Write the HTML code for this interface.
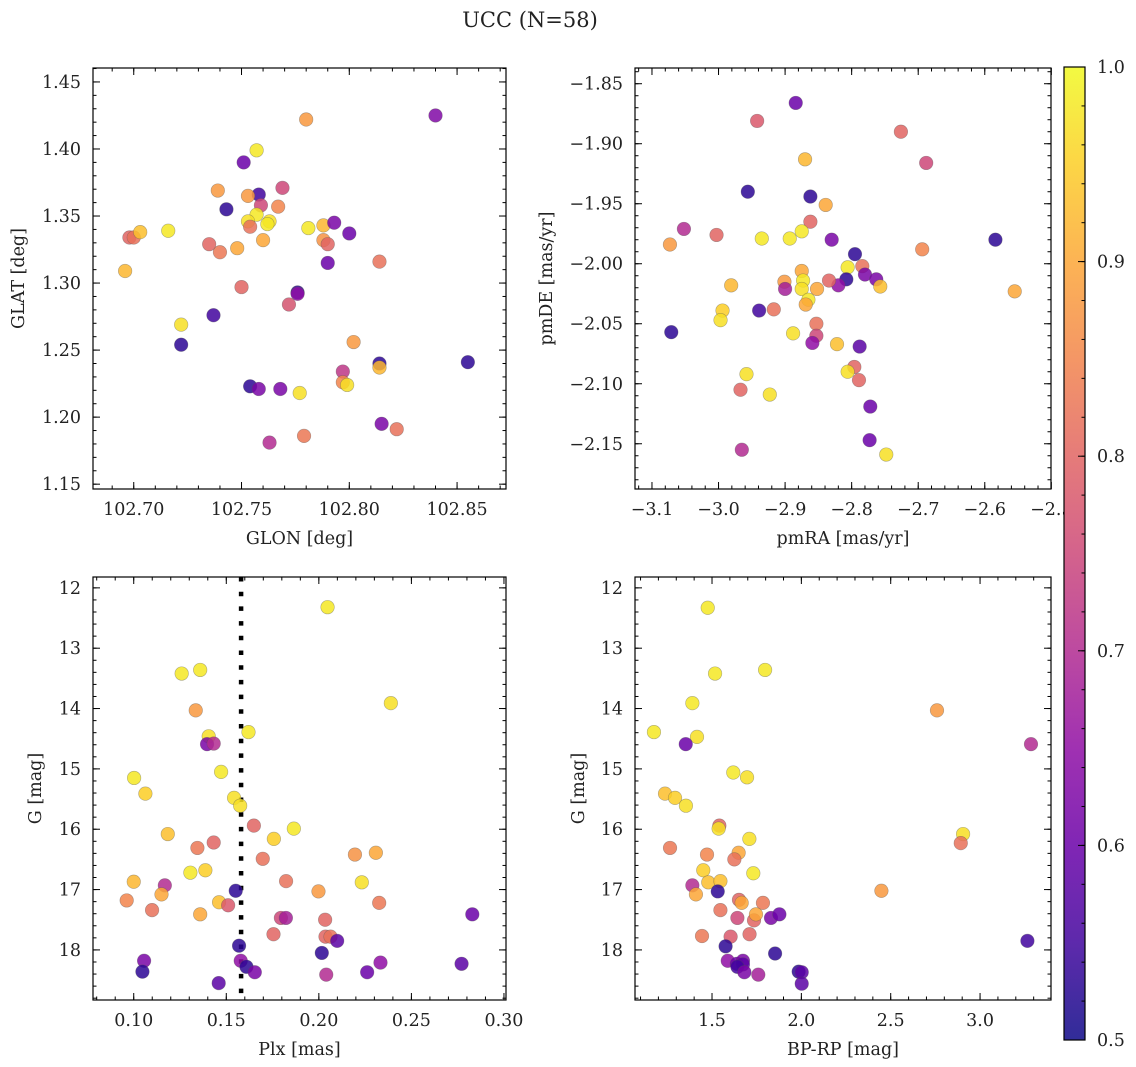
<!DOCTYPE html>
<html><head><meta charset="utf-8">
<style>
html,body{margin:0;padding:0;background:#fff;}
svg{display:block;}
text{font-family:"DejaVu Serif","Liberation Serif",serif;fill:#222;}
</style></head>
<body>
<svg id="fig" width="1136" height="1067" viewBox="0 0 1136 1067" xmlns="http://www.w3.org/2000/svg">
<defs>
<linearGradient id="cbgrad" x1="0" y1="1" x2="0" y2="0">
<stop offset="0" stop-color="#0d0887"/><stop offset="0.1" stop-color="#41049d"/>
<stop offset="0.2" stop-color="#6a00a8"/><stop offset="0.3" stop-color="#8f0da4"/>
<stop offset="0.4" stop-color="#b12a90"/><stop offset="0.5" stop-color="#cc4778"/>
<stop offset="0.6" stop-color="#e16462"/><stop offset="0.7" stop-color="#f2844b"/>
<stop offset="0.8" stop-color="#fca636"/><stop offset="0.9" stop-color="#fcce25"/>
<stop offset="1" stop-color="#f0f921"/>
</linearGradient>
</defs>
<text x="530" y="27" text-anchor="middle" font-size="21">UCC (N=58)</text>
</svg>
<script>
// ---------- Panel 1: GLON vs GLAT ----------
const glon = [102.840,102.780,102.757,102.751,102.739,102.758,102.769,102.743,102.753,102.759,102.767,102.757,102.753,102.763,102.762,102.754,102.760,102.698,102.700,102.703,102.716,102.735,102.740,102.748,102.781,102.788,102.793,102.800,102.788,102.790,102.790,102.814,102.696,102.750,102.776,102.776,102.772,102.722,102.737,102.722,102.802,102.814,102.814,102.855,102.797,102.797,102.799,102.754,102.758,102.768,102.777,102.815,102.822,102.763,102.779];
const glat = [1.425,1.422,1.399,1.390,1.369,1.366,1.371,1.355,1.365,1.358,1.357,1.351,1.346,1.346,1.344,1.342,1.332,1.334,1.334,1.338,1.339,1.329,1.323,1.326,1.341,1.343,1.345,1.337,1.332,1.329,1.315,1.316,1.309,1.297,1.293,1.292,1.284,1.269,1.276,1.254,1.256,1.240,1.237,1.241,1.234,1.226,1.224,1.223,1.221,1.221,1.218,1.195,1.191,1.181,1.186];
const prob1 = [0.63,0.88,0.98,0.6,0.88,0.55,0.75,0.53,0.88,0.75,0.85,0.98,0.97,0.97,0.98,0.82,0.9,0.8,0.82,0.93,0.98,0.8,0.83,0.9,0.98,0.92,0.62,0.6,0.87,0.8,0.6,0.82,0.92,0.8,0.53,0.65,0.77,0.97,0.55,0.53,0.88,0.53,0.92,0.53,0.72,0.85,0.97,0.53,0.62,0.62,0.97,0.62,0.82,0.7,0.83];
// ---------- Panel 2: pmRA vs pmDE ----------
const pmra = [-2.884,-2.942,-2.726,-2.688,-2.870,-2.956,-2.862,-2.839,-2.862,-3.052,-3.003,-3.073,-2.935,-2.893,-2.875,-2.830,-2.795,-2.694,-2.584,-2.806,-2.784,-2.780,-2.763,-2.757,-2.808,-2.820,-2.834,-2.852,-2.875,-2.873,-2.875,-2.865,-2.869,-2.901,-2.900,-2.981,-2.994,-2.997,-2.939,-2.917,-2.555,-3.071,-2.853,-2.853,-2.859,-2.888,-2.822,-2.788,-2.796,-2.806,-2.789,-2.958,-2.967,-2.923,-2.772,-2.773,-2.965,-2.748];
const pmde = [-1.866,-1.881,-1.890,-1.916,-1.913,-1.940,-1.944,-1.951,-1.965,-1.971,-1.976,-1.984,-1.979,-1.979,-1.973,-1.980,-1.992,-1.988,-1.980,-2.003,-2.002,-2.009,-2.013,-2.019,-2.013,-2.018,-2.014,-2.021,-2.006,-2.014,-2.021,-2.030,-2.034,-2.015,-2.021,-2.018,-2.039,-2.047,-2.039,-2.038,-2.023,-2.057,-2.050,-2.060,-2.066,-2.058,-2.067,-2.069,-2.086,-2.090,-2.097,-2.092,-2.105,-2.109,-2.119,-2.147,-2.155,-2.159];
const prob2 = [0.6,0.78,0.8,0.75,0.92,0.53,0.53,0.9,0.8,0.7,0.8,0.88,0.98,0.98,0.98,0.62,0.53,0.85,0.53,0.98,0.82,0.62,0.62,0.93,0.53,0.65,0.8,0.9,0.9,0.98,0.97,0.98,0.9,0.88,0.68,0.92,0.95,0.97,0.55,0.82,0.9,0.53,0.82,0.75,0.65,0.97,0.93,0.58,0.8,0.97,0.8,0.97,0.8,0.97,0.6,0.6,0.7,0.97];
// ---------- Panel 3: Plx vs G ----------
const plx = [0.2047,0.1259,0.1359,0.2389,0.1335,0.1405,0.1396,0.1432,0.1620,0.1472,0.1002,0.1063,0.1542,0.1575,0.1649,0.1865,0.1184,0.1757,0.1432,0.1344,0.1697,0.2195,0.2308,0.1306,0.1387,0.1000,0.1823,0.2232,0.1168,0.1150,0.1551,0.1998,0.0962,0.1461,0.1510,0.2326,0.1099,0.1359,0.2829,0.1795,0.1822,0.2034,0.1755,0.2036,0.2063,0.2099,0.1569,0.2016,0.1056,0.1578,0.2333,0.1047,0.1609,0.1654,0.2040,0.2261,0.2771,0.1459];
const gmag3 = [12.32,13.42,13.36,13.91,14.03,14.46,14.59,14.58,14.39,15.05,15.15,15.41,15.48,15.61,15.94,15.99,16.08,16.16,16.22,16.31,16.49,16.42,16.39,16.72,16.68,16.87,16.86,16.88,16.93,17.08,17.02,17.03,17.18,17.21,17.26,17.22,17.34,17.41,17.41,17.47,17.47,17.50,17.74,17.78,17.78,17.85,17.93,18.05,18.18,18.18,18.21,18.36,18.28,18.37,18.41,18.37,18.23,18.55];
const prob3 = [0.98,0.98,0.98,0.97,0.88,0.97,0.62,0.7,0.98,0.98,0.98,0.95,0.97,0.97,0.8,0.98,0.93,0.95,0.8,0.83,0.82,0.87,0.9,0.98,0.95,0.92,0.82,0.97,0.7,0.9,0.53,0.88,0.85,0.93,0.78,0.83,0.82,0.9,0.6,0.75,0.68,0.8,0.8,0.8,0.82,0.58,0.53,0.53,0.62,0.65,0.65,0.53,0.53,0.62,0.7,0.6,0.58,0.58];
const plxLine = [0.158];
// ---------- Panel 4: BP-RP vs G ----------
const bprp = [1.476,1.517,1.797,1.390,2.759,1.175,1.416,1.353,3.285,1.619,1.696,1.237,1.293,1.354,1.541,1.537,1.709,1.265,1.472,1.649,1.625,2.905,2.892,1.731,1.451,1.479,1.547,1.390,1.532,1.410,2.448,1.651,1.666,1.785,1.547,1.642,1.735,1.746,1.830,1.877,1.444,1.604,1.710,1.576,1.853,3.265,1.588,1.639,1.673,1.673,1.642,1.681,1.759,1.985,2.002,2.002];
const gmag4 = [12.33,13.42,13.36,13.91,14.03,14.39,14.47,14.59,14.59,15.06,15.14,15.41,15.48,15.61,15.94,15.99,16.16,16.31,16.42,16.39,16.50,16.08,16.23,16.73,16.68,16.88,16.86,16.93,17.03,17.08,17.02,17.17,17.22,17.22,17.34,17.47,17.51,17.41,17.47,17.41,17.77,17.78,17.74,17.94,18.06,17.85,18.18,18.23,18.18,18.24,18.28,18.37,18.41,18.36,18.37,18.56];
const prob4 = [0.98,0.98,0.98,0.98,0.88,0.98,0.97,0.6,0.7,0.98,0.97,0.93,0.95,0.97,0.8,0.97,0.97,0.83,0.85,0.9,0.82,0.97,0.82,0.98,0.95,0.93,0.93,0.7,0.53,0.9,0.88,0.8,0.9,0.83,0.82,0.75,0.8,0.9,0.62,0.6,0.83,0.78,0.8,0.53,0.53,0.55,0.65,0.6,0.62,0.58,0.55,0.62,0.68,0.53,0.58,0.58];
// ---------- tick arrays ----------
const xt1 = [102.70,102.75,102.80,102.85];
const xt1Labels = ["102.70","102.75","102.80","102.85"];
const yt1 = [1.15,1.20,1.25,1.30,1.35,1.40,1.45];
const yt1Labels = ["1.15","1.20","1.25","1.30","1.35","1.40","1.45"];
const xt2 = [-3.1,-3.0,-2.9,-2.8,-2.7,-2.6,-2.5];
const xt2Labels = ["\u22123.1","\u22123.0","\u22122.9","\u22122.8","\u22122.7","\u22122.6","\u22122.5"];
const yt2 = [-2.15,-2.10,-2.05,-2.00,-1.95,-1.90,-1.85];
const yt2Labels = ["\u22122.15","\u22122.10","\u22122.05","\u22122.00","\u22121.95","\u22121.90","\u22121.85"];
const xt3 = [0.10,0.15,0.20,0.25,0.30];
const xt3Labels = ["0.10","0.15","0.20","0.25","0.30"];
const ytG = [12,13,14,15,16,17,18];
const ytGLabels = ["12","13","14","15","16","17","18"];
const xt4 = [1.5,2.0,2.5,3.0];
const xt4Labels = ["1.5","2.0","2.5","3.0"];
const cbTicks = [0.5,0.6,0.7,0.8,0.9,1.0];
const cbLabels = ["0.5","0.6","0.7","0.8","0.9","1.0"];

const NS = "http://www.w3.org/2000/svg";
const svg = document.getElementById('fig');
function mk(tag, attrs, parent){const e=document.createElementNS(NS,tag);for(const k in attrs)e.setAttribute(k,attrs[k]);(parent||svg).appendChild(e);return e;}

const stops=[[13,8,135],[65,4,157],[106,0,168],[143,13,164],[177,42,144],[204,71,120],[225,100,98],[242,132,75],[252,166,54],[252,206,37],[240,249,33]];
function plasma(p){let t=(p-0.5)/0.5;t=Math.max(0,Math.min(1,t));const f=t*10;const i=Math.min(9,Math.floor(f));const r=f-i;const a=stops[i],b=stops[i+1];return `rgb(${Math.round(a[0]+(b[0]-a[0])*r)},${Math.round(a[1]+(b[1]-a[1])*r)},${Math.round(a[2]+(b[2]-a[2])*r)})`;}

function panel(o){
  const g=mk('g',{});
  
  
  const sx=v=>o.x0+(v-o.xmin)/(o.xmax-o.xmin)*(o.x1-o.x0);
  const sy=o.invertY ? (v=>o.y0+(v-o.ymin)/(o.ymax-o.ymin)*(o.y1-o.y0)) : (v=>o.y1-(v-o.ymin)/(o.ymax-o.ymin)*(o.y1-o.y0));
  const clipId='clip-'+o.name;
  const cp=mk('clipPath',{id:clipId},g);mk('rect',{x:o.x0,y:o.y0,width:o.x1-o.x0,height:o.y1-o.y0},cp);
  const pts=mk('g',{'clip-path':`url(#${clipId})`},g);
  if(o.vline){
    const l=mk('line',{x1:sx(o.vline),x2:sx(o.vline),y1:o.y0,y2:o.y1,stroke:'#000','stroke-width':4.5,'stroke-dasharray':'4.5 10.2'},pts);
    
    
  }
  for(let i=0;i<o.xs.length;i++){
    const c=mk('circle',{cx:sx(o.xs[i]),cy:sy(o.ys[i]),r:6.8,fill:plasma(o.ps[i]),'fill-opacity':0.85,stroke:'#555','stroke-opacity':0.45,'stroke-width':0.6},pts);
    
    
  }
  for(let v=o.xmin-(o.xmin%o.xminor); v<=o.xmax+1e-9; v+=o.xminor){
    const X=sx(v); if(X<o.x0-0.1||X>o.x1+0.1) continue;
    mk('line',{x1:X,x2:X,y1:o.y1,y2:o.y1-3.5,stroke:'#000','stroke-width':1},g);
    mk('line',{x1:X,x2:X,y1:o.y0,y2:o.y0+3.5,stroke:'#000','stroke-width':1},g);
  }
  const ylo=Math.min(o.ymin,o.ymax), yhi=Math.max(o.ymin,o.ymax);
  for(let v=Math.ceil(ylo/o.yminor)*o.yminor; v<=yhi+1e-9; v+=o.yminor){
    const Y=sy(v);
    mk('line',{x1:o.x0,x2:o.x0+3.5,y1:Y,y2:Y,stroke:'#000','stroke-width':1},g);
    mk('line',{x1:o.x1,x2:o.x1-3.5,y1:Y,y2:Y,stroke:'#000','stroke-width':1},g);
  }
  o.xt.forEach((v,i)=>{const X=sx(v);
    mk('line',{x1:X,x2:X,y1:o.y1,y2:o.y1-7,stroke:'#000','stroke-width':1},g);
    mk('line',{x1:X,x2:X,y1:o.y0,y2:o.y0+7,stroke:'#000','stroke-width':1},g);
    const t=mk('text',{x:X,y:o.y1+26,'text-anchor':'middle','font-size':17.5},g);t.textContent=o.xl[i];
    
    
  });
  o.yt.forEach((v,i)=>{const Y=sy(v);
    mk('line',{x1:o.x0,x2:o.x0+7,y1:Y,y2:Y,stroke:'#000','stroke-width':1},g);
    mk('line',{x1:o.x1,x2:o.x1-7,y1:Y,y2:Y,stroke:'#000','stroke-width':1},g);
    const t=mk('text',{x:o.x0-12,y:Y+6,'text-anchor':'end','font-size':17.5},g);t.textContent=o.yl[i];
    
    
  });
  mk('rect',{x:o.x0,y:o.y0,width:o.x1-o.x0,height:o.y1-o.y0,fill:'none',stroke:'#000','stroke-width':1.2},g);
  const xt=mk('text',{x:(o.x0+o.x1)/2,y:o.y1+55,'text-anchor':'middle','font-size':17.5},g);xt.textContent=o.xlabel;
  
  
  const cy=(o.y0+o.y1)/2;
  const yt=mk('text',{x:o.ylx,y:cy,'text-anchor':'middle','font-size':17.5,transform:`rotate(-90 ${o.ylx} ${cy})`},g);yt.textContent=o.ylabel;
  
  
}

panel({name:'glon-glat-panel',x0:93,x1:506,y0:68,y1:489,xmin:102.6811,xmax:102.8727,ymin:1.1464,ymax:1.4604,
  xs:glon,ys:glat,ps:prob1,xt:xt1,xl:xt1Labels,yt:yt1,yl:yt1Labels,xminor:0.01,yminor:0.01,xlabel:'GLON [deg]',ylabel:'GLAT [deg]',ylx:24});
panel({name:'pm-panel',x0:635,x1:1051,y0:68,y1:489,xmin:-3.1255,xmax:-2.5005,ymin:-2.1877,ymax:-1.8369,
  xs:pmra,ys:pmde,ps:prob2,xt:xt2,xl:xt2Labels,yt:yt2,yl:yt2Labels,xminor:0.02,yminor:0.01,xlabel:'pmRA [mas/yr]',ylabel:'pmDE [mas/yr]',ylx:552});
panel({name:'plx-g-panel',x0:93,x1:506,y0:577,y1:1000,xmin:0.0780,xmax:0.3011,ymin:11.82,ymax:18.83,invertY:true,
  xs:plx,ys:gmag3,ps:prob3,xt:xt3,xl:xt3Labels,yt:ytG,yl:ytGLabels,xminor:0.01,yminor:0.2,xlabel:'Plx [mas]',ylabel:'G [mag]',ylx:41,vline:plxLine[0]});
panel({name:'cmd-panel',x0:635,x1:1051,y0:577,y1:1000,xmin:1.069,xmax:3.397,ymin:11.82,ymax:18.83,invertY:true,
  xs:bprp,ys:gmag4,ps:prob4,xt:xt4,xl:xt4Labels,yt:ytG,yl:ytGLabels,xminor:0.1,yminor:0.2,xlabel:'BP-RP [mag]',ylabel:'G [mag]',ylx:584});

const cb=mk('g',{});


const cbx0=1064,cbx1=1085,cby0=67,cby1=1040;
mk('rect',{x:cbx0,y:cby0,width:cbx1-cbx0,height:cby1-cby0,fill:'#fff'},cb);
mk('rect',{x:cbx0,y:cby0,width:cbx1-cbx0,height:cby1-cby0,fill:'url(#cbgrad)','fill-opacity':0.85},cb);
const cbY=v=>cby1-(v-0.5)/0.5*(cby1-cby0);
for(let v=0.5;v<=1.0001;v+=0.02){mk('line',{x1:cbx1,x2:cbx1-3.5,y1:cbY(v),y2:cbY(v),stroke:'#000','stroke-width':1},cb);}
cbTicks.forEach((v,i)=>{const Y=cbY(v);
  mk('line',{x1:cbx1,x2:cbx1-7,y1:Y,y2:Y,stroke:'#000','stroke-width':1},cb);
  const t=mk('text',{x:1097,y:Y+6,'font-size':17.5},cb);t.textContent=cbLabels[i];
  
  
});
mk('rect',{x:cbx0,y:cby0,width:cbx1-cbx0,height:cby1-cby0,fill:'none',stroke:'#000','stroke-width':1.2},cb);
</script>
</body></html>
